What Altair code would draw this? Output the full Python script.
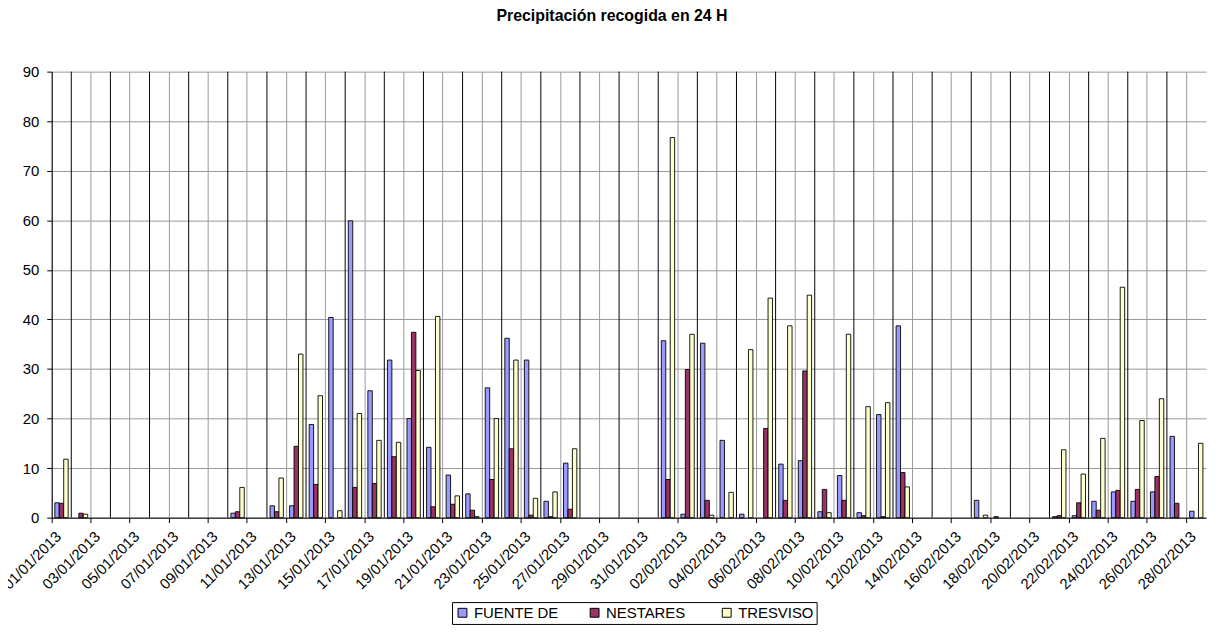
import altair as alt
import pandas as pd

# Categories: every day from 01/01/2013 to 28/02/2013
dias = list(pd.date_range("2013-01-01", "2013-02-28").strftime("%d/%m/%Y"))
estaciones = ["FUENTE DE", "NESTARES", "TRESVISO"]
colores = ["#9999FF", "#993366", "#FFFFCC"]

# Values (mm), one per day
fuente_de = [
    3.0, 0, 0, 0, 0, 0, 0, 0, 0, 0.9,          # 01-10 Jan
    0, 2.4, 2.4, 18.8, 40.4, 59.9, 25.6, 31.8, 20.0, 14.2,  # 11-20 Jan
    8.6, 4.8, 26.2, 36.2, 31.8, 3.3, 11.0, 0, 0, 0,  # 21-30 Jan
    0,                                           # 31 Jan
    35.7, 0.7, 35.2, 15.6, 0.7, 0, 10.8, 11.5, 1.2, 8.5,  # 01-10 Feb
    1.0, 20.8, 38.7, 0, 0, 0, 3.5, 0.2, 0, 0,   # 11-20 Feb
    0.2, 0.4, 3.3, 5.2, 3.3, 5.2, 16.4, 1.3,    # 21-28 Feb
]
nestares = [
    2.9, 0.9, 0, 0, 0, 0, 0, 0, 0, 1.2,
    0, 1.2, 14.4, 6.7, 0, 6.1, 6.9, 12.3, 37.4, 2.2,
    2.7, 1.5, 7.7, 13.9, 0.5, 0.2, 1.7, 0, 0, 0,
    0,
    7.7, 29.9, 3.5, 0, 0, 18.0, 3.5, 29.6, 5.7, 3.5,
    0.4, 0.2, 9.1, 0, 0, 0, 0, 0, 0, 0,
    0.4, 3.0, 1.5, 5.5, 5.7, 8.3, 2.9, 0,
]
tresviso = [
    11.8, 0.7, 0, 0, 0, 0, 0, 0, 0, 6.1,
    0, 8.0, 33.0, 24.6, 1.4, 21.0, 15.6, 15.2, 29.7, 40.6,
    4.4, 0.2, 20.0, 31.8, 3.9, 5.2, 13.9, 0, 0, 0,
    0,
    76.7, 37.0, 0.5, 5.1, 33.9, 44.3, 38.7, 44.9, 1.0, 37.0,
    22.4, 23.2, 6.2, 0, 0, 0, 0.5, 0, 0, 0,
    13.7, 8.8, 16.0, 46.5, 19.6, 24.0, 0, 15.0,
]

df = pd.DataFrame({
    "fecha": dias * 3,
    "estacion": [estaciones[0]] * len(dias) + [estaciones[1]] * len(dias) + [estaciones[2]] * len(dias),
    "valor": fuente_de + nestares + tresviso,
})

dias_etiqueta = dias[0::2]
dias_linea = pd.DataFrame({"fecha": dias[1::2]})

FONT = "Liberation Sans"
x_scale = alt.Scale(domain=dias, paddingInner=0, paddingOuter=0)

x_axis = alt.Axis(
    values=dias_etiqueta, bandPosition=0, labelAngle=315, labelAlign="right",
    labelBaseline="middle", labelFont=FONT, labelFontSize=15, labelColor="#000",
    labelPadding=11, labelOffset=-3, labelOverlap=False, grid=True, gridColor="#999999",
    gridWidth=1, domainColor="#000", tickColor="#000", tickSize=5, title=None,
)

rules = alt.Chart(dias_linea).mark_rule(color="#000", strokeWidth=1).encode(
    x=alt.X("fecha:O", scale=x_scale, bandPosition=0, axis=x_axis),
)

bars = alt.Chart(df).transform_filter("datum.valor > 0").mark_bar(stroke="#000", strokeWidth=0.9).encode(
    x=alt.X("fecha:O", scale=x_scale, axis=x_axis),
    xOffset=alt.XOffset("estacion:N", sort=estaciones,
                        scale=alt.Scale(domain=estaciones, paddingInner=0, paddingOuter=0.7)),
    y=alt.Y("valor:Q", scale=alt.Scale(domain=[0, 90], nice=False),
            axis=alt.Axis(values=list(range(0, 91, 10)), labelFont=FONT, labelFontSize=15,
                          labelColor="#000", labelPadding=8, tickSize=5, tickColor="#000",
                          domainColor="#000", gridColor="#999999", title=None)),
    color=alt.Color("estacion:N", sort=estaciones,
                    scale=alt.Scale(domain=estaciones, range=colores),
                    legend=alt.Legend(orient="none", legendX=403, legendY=534, direction="horizontal",
                                      title=None, strokeColor="#000", fillColor="#fff", padding=3,
                                      symbolType="square", symbolSize=80, symbolStrokeColor="#000",
                                      symbolStrokeWidth=1, labelFont=FONT, labelFontSize=15,
                                      labelColor="#000", columnPadding=28, labelOffset=4,
                                      gridAlign="all", columns=3)),
)

chart = alt.layer(rules, bars).properties(
    width=1162,
    height=449,
    autosize=alt.AutoSizeParams(type="none"),
    padding={"left": 44, "top": 62, "right": 5, "bottom": 106},
    title=alt.TitleParams("Precipitación recogida en 24 H", font=FONT, fontSize=16,
                          fontWeight="bold", color="#000", anchor="middle", offset=41, dx=-17),
).configure_view(strokeWidth=0)

chart.save("out.html", embed_options={"renderer": "svg", "actions": False})
